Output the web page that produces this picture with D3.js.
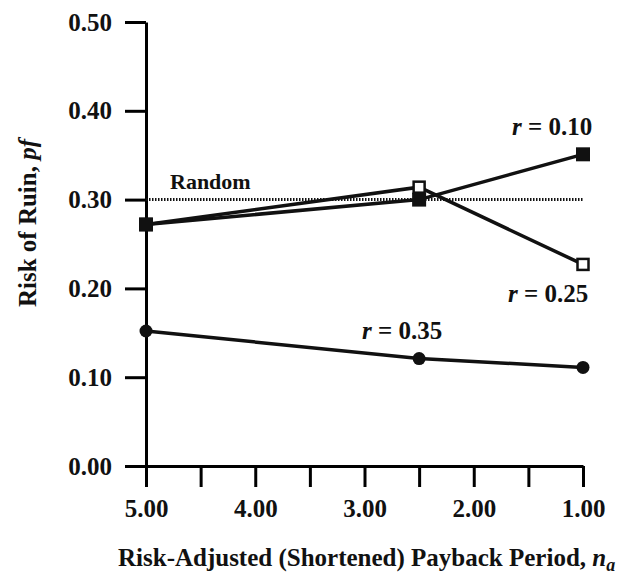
<!DOCTYPE html>
<html>
<head>
<meta charset="utf-8">
<script src="https://cdn.jsdelivr.net/npm/d3@7"></script>
<style>
  body { margin: 0; background: #fff; }
  svg text { font-family: "Liberation Serif", "DejaVu Serif", serif; fill: #111; font-weight: bold; }
</style>
</head>
<body>
<svg id="chart"></svg>
<script>
// data
var periods = [5.0, 2.5, 1.0];
var seriesNames = ["r = 0.10", "r = 0.25", "r = 0.35"];
var r010 = [0.272, 0.300, 0.351];
var r025 = [0.272, 0.314, 0.227];
var r035 = [0.152, 0.121, 0.111];
var randomLevel = 0.30;
var xTicks = [5.0, 4.5, 4.0, 3.5, 3.0, 2.5, 2.0, 1.5, 1.0];
var xLabels = [5.0, 4.0, 3.0, 2.0, 1.0];
var yTicks = [0.0, 0.1, 0.2, 0.3, 0.4, 0.5];

var width = 623, height = 583;
var serif = '"Liberation Serif", "DejaVu Serif", serif';

var svg = d3.select("#chart")
    .attr("width", width)
    .attr("height", height);

var xScale = d3.scaleLinear().domain([5, 1]).range([146, 583]);
var yScale = d3.scaleLinear().domain([0, 0.5]).range([466, 22]);

// x axis
var xAxis = d3.axisBottom(xScale)
    .tickValues(xTicks)
    .tickSize(21)
    .tickSizeOuter(0)
    .tickPadding(12)
    .tickFormat(d => xLabels.includes(d) ? d3.format(".2f")(d) : "");

var gx = svg.append("g")
    .attr("transform", `translate(0,${yScale(0)})`)
    .attr("font-family", serif)
    .call(xAxis);
gx.select(".domain").attr("stroke-width", 3);
gx.selectAll(".tick line").attr("stroke-width", 3);
gx.selectAll("text")
    .style("font-family", serif)
    .style("font-size", "25px")
    .attr("fill", "#111");

// y axis
var yAxis = d3.axisLeft(yScale)
    .tickValues(yTicks)
    .tickSize(21)
    .tickSizeOuter(0)
    .tickPadding(13)
    .tickFormat(d3.format(".2f"));

var gy = svg.append("g")
    .attr("transform", `translate(${xScale(5)},0)`)
    .attr("font-family", serif)
    .call(yAxis);
gy.select(".domain").attr("stroke-width", 3);
gy.selectAll(".tick line").attr("stroke-width", 3);
gy.selectAll("text")
    .style("font-family", serif)
    .style("font-size", "25px")
    .attr("fill", "#111");

// random reference line
svg.append("line")
    .attr("x1", xScale(5)).attr("x2", xScale(1))
    .attr("y1", yScale(randomLevel)).attr("y2", yScale(randomLevel))
    .attr("stroke", "#111")
    .attr("stroke-width", 3)
    .attr("stroke-dasharray", "1.5,1.5");

svg.append("text")
    .attr("x", 170).attr("y", 189)
    .style("font-size", "22px")
    .text("Random");

var line = d3.line()
    .x((d, i) => xScale(periods[i]))
    .y(d => yScale(d));

[r010, r025, r035].forEach(vals => {
  svg.append("path")
    .datum(vals)
    .attr("d", line)
    .attr("fill", "none")
    .attr("stroke", "#111")
    .attr("stroke-width", 3.5);
});

// circles for r = 0.35
svg.selectAll(".dot35")
    .data(r035)
    .enter()
    .append("circle")
    .attr("cx", (d, i) => xScale(periods[i]))
    .attr("cy", d => yScale(d))
    .attr("r", 6.5)
    .attr("fill", "#111");

// open squares for r = 0.25
svg.selectAll(".sq25")
    .data(r025)
    .enter()
    .append("rect")
    .attr("x", (d, i) => xScale(periods[i]) - 5.5)
    .attr("y", d => yScale(d) - 5.5)
    .attr("width", 11).attr("height", 11)
    .attr("fill", "#fff")
    .attr("stroke", "#111")
    .attr("stroke-width", 2.5);

// filled squares for r = 0.10
svg.selectAll(".sq10")
    .data(r010)
    .enter()
    .append("rect")
    .attr("x", (d, i) => xScale(periods[i]) - 7)
    .attr("y", d => yScale(d) - 7)
    .attr("width", 14).attr("height", 14)
    .attr("fill", "#111");

// series labels
function rLabel(x, y, name) {
  var t = svg.append("text").attr("x", x).attr("y", y)
    .style("font-size", "25px");
  t.append("tspan").style("font-style", "italic").text(name.slice(0, 1));
  t.append("tspan").text(name.slice(1));
}
rLabel(512, 135, seriesNames[0]);
rLabel(508, 302, seriesNames[1]);
rLabel(362, 339, seriesNames[2]);

// axis titles
var xt = svg.append("text")
    .attr("x", 118).attr("y", 566)
    .style("font-size", "25px");
xt.append("tspan").text("Risk-Adjusted (Shortened) Payback Period, ");
xt.append("tspan").style("font-style", "italic").text("n");
xt.append("tspan").style("font-style", "italic").style("font-size", "18px").attr("dy", 5).text("a");

var yt = svg.append("text")
    .attr("transform", "translate(36,223) rotate(-90)")
    .attr("text-anchor", "middle")
    .style("font-size", "25px");
yt.append("tspan").text("Risk of Ruin, ");
yt.append("tspan").style("font-style", "italic").text("pf");
</script>
</body>
</html>
